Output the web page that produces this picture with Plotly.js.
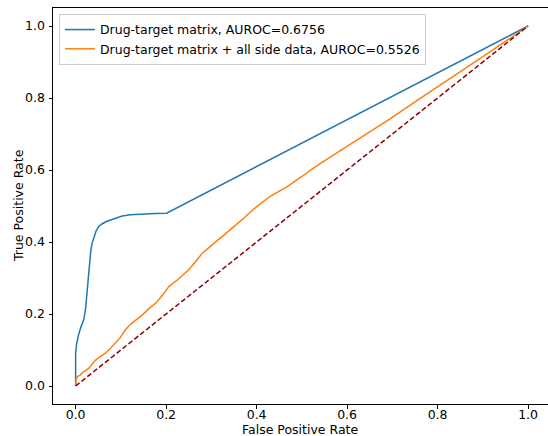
<!DOCTYPE html>
<html>
<head>
<meta charset="utf-8">
<script src="https://cdn.plot.ly/plotly-3.0.1.min.js"></script>
<style>html,body{margin:0;padding:0;background:#fff;overflow:hidden}</style>
</head>
<body>
<div id="chart" style="width:548px;height:436px"></div>
<script>
const seriesNames = ["Drug-target matrix, AUROC=0.6756", "Drug-target matrix + all side data, AUROC=0.5526"];
const fprA = [0, 0, 0.002, 0.006, 0.012, 0.018, 0.022, 0.026, 0.029, 0.033, 0.036, 0.040, 0.045, 0.051, 0.058, 0.068, 0.080, 0.092, 0.103, 0.121, 0.147, 0.175, 0.201, 1.0];
const tprA = [0, 0.090, 0.115, 0.140, 0.165, 0.184, 0.215, 0.276, 0.320, 0.369, 0.395, 0.411, 0.430, 0.443, 0.450, 0.457, 0.462, 0.468, 0.472, 0.476, 0.478, 0.479, 0.480, 1.0];
const fprB = [0, 0.001, 0.004, 0.010, 0.015, 0.022, 0.029, 0.036, 0.044, 0.055, 0.066, 0.077, 0.088, 0.099, 0.110, 0.122, 0.135, 0.147, 0.162, 0.177, 0.192, 0.206, 0.228, 0.250, 0.265, 0.280, 0.300, 0.324, 0.342, 0.355, 0.368, 0.385, 0.401, 0.430, 0.467, 0.500, 0.526, 0.560, 0.600, 0.650, 0.695, 0.750, 0.820, 0.900, 1.0];
const tprB = [0, 0.018, 0.026, 0.030, 0.037, 0.043, 0.049, 0.060, 0.072, 0.082, 0.091, 0.105, 0.119, 0.135, 0.156, 0.172, 0.185, 0.197, 0.215, 0.230, 0.252, 0.276, 0.298, 0.323, 0.345, 0.369, 0.390, 0.415, 0.434, 0.447, 0.462, 0.482, 0.499, 0.527, 0.553, 0.582, 0.606, 0.634, 0.666, 0.705, 0.742, 0.789, 0.847, 0.915, 1.0];
const diagX = [0, 1];
const diagY = [0, 1];
const tickVals = [0, 0.2, 0.4, 0.6, 0.8, 1.0];
const tickText = ["0.0", "0.2", "0.4", "0.6", "0.8", "1.0"];
const xTitle = "False Positive Rate";
const yTitle = "True Positive Rate";

const F = "DejaVu Sans, sans-serif";
const FS = 12.5;
const traces = [
  {x: fprA, y: tprA, mode: "lines", name: seriesNames[0], line: {color: "#1f77b4", width: 1.5}},
  {x: fprB, y: tprB, mode: "lines", name: seriesNames[1], line: {color: "#ff7f0e", width: 1.5}},
  {x: diagX, y: diagY, mode: "lines", showlegend: false, line: {color: "#8b0000", width: 1.5, dash: "5px,2.5px"}}
];
const layout = {
  width: 548, height: 436,
  margin: {l: 53, r: 0, t: 8, b: 32},
  paper_bgcolor: "#fff", plot_bgcolor: "#fff",
  font: {family: F, size: FS, color: "#000"},
  showlegend: true,
  legend: {x: 0.012, y: 0.985, xanchor: "left", yanchor: "top", bgcolor: "rgba(255,255,255,0.8)",
           bordercolor: "#cccccc", borderwidth: 1, font: {family: F, size: FS, color: "#000"}, tracegroupgap: 0},
  xaxis: {range: [-0.05, 1.044], tickvals: tickVals, ticktext: tickText, showgrid: false, zeroline: false,
          showline: true, linecolor: "#000", linewidth: 1, mirror: true, ticks: "outside", ticklen: 3.5, tickcolor: "#000",
          ticklabelstandoff: -5},
  yaxis: {range: [-0.05, 1.05], tickvals: tickVals, ticktext: tickText, showgrid: false, zeroline: false,
          showline: true, linecolor: "#000", linewidth: 1, mirror: false, ticks: "outside", ticklen: 3.5, tickcolor: "#000",
          ticklabelstandoff: 1},
  annotations: [
    {text: xTitle, xref: "paper", yref: "paper", x: (300 - 53) / 495, y: -25 / 396, xanchor: "center", yanchor: "middle",
     showarrow: false, font: {family: F, size: FS, color: "#000"}},
    {text: yTitle, xref: "paper", yref: "paper", x: (18 - 53) / 495, y: (404 - 206) / 396, xanchor: "center", yanchor: "middle",
     textangle: -90, showarrow: false, font: {family: F, size: FS, color: "#000"}}
  ]
};
Plotly.newPlot("chart", traces, layout, {displayModeBar: false, staticPlot: true});
</script>
</body>
</html>
